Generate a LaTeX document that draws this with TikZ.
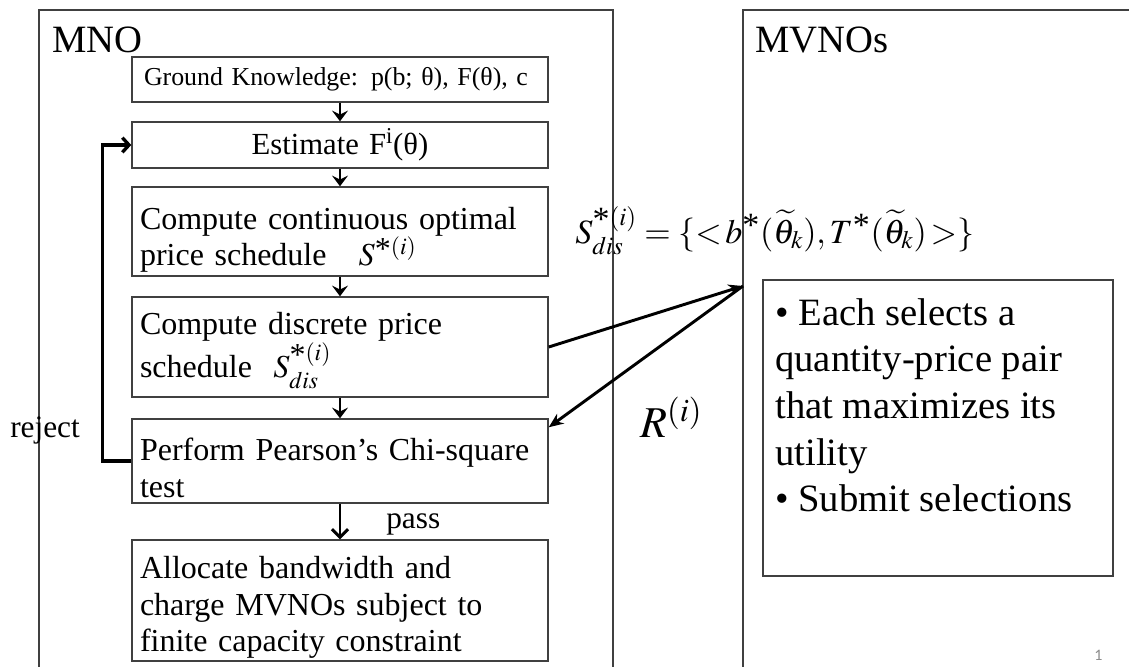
\documentclass[tikz,border=0pt]{standalone}
\usepackage{mathptmx}
\usepackage{fontspec}
\setmainfont{Liberation Serif}
\newfontfamily\calibfont{Carlito}
\usetikzlibrary{arrows.meta,calc}
\definecolor{boxgray}{HTML}{404040}
\definecolor{pagegray}{HTML}{8C8C8C}
\tikzset{
  x=0.75pt, y=-0.75pt,
  frame/.style={draw=boxgray, line width=1pt},
  flowbox/.style={draw=boxgray, line width=1.1pt, minimum width=312pt,
    inner xsep=6pt, inner ysep=0pt, text width=300pt,
    font=\fontsize{24}{27.5}\selectfont},
  smallarr/.style={line width=2.2pt, -{Stealth[length=8pt,width=12pt,inset=3pt]}},
  passarr/.style={line width=2.2pt, -{Straight Barb[length=6pt,width=12pt]}},
  looparr/.style={line width=2.5pt, -{Straight Barb[length=5pt,width=11pt]}},
  longarr/.style={line width=2.2pt, -{Stealth[length=11pt,width=9pt]}},
  lbl/.style={inner sep=0pt, anchor=base west}
}
\newcommand{\tstar}{\textnormal{\raisebox{-0.35ex}{*}}}
\begin{document}
\begin{tikzpicture}
\useasboundingbox (0,0) rectangle (1129,667);
\fill[white] (0,0) rectangle (1129,667);

% outer frames
\draw[frame] (39,667) -- (39,10) -- (613,10) -- (613,667);
\draw[frame] (743,667) -- (743,10) -- (1129,10);

\node[lbl, font=\fontsize{29}{34}\selectfont] (mno) at (52,53) {MNO};
\node[lbl, font=\fontsize{29}{34}\selectfont] (mvno) at (755,53) {MVNOs};

% flow boxes
\node[flowbox, minimum height=33.75pt, align=left, font=\fontsize{19.4}{23}\selectfont] (gk) at (340,79.5)
  {\hspace*{3pt}Ground Knowledge: p(b; θ), F(θ), c};
\node[flowbox, minimum height=34.5pt, align=center, font=\fontsize{23}{27}\selectfont] (est) at (340,145)
  {Estimate F\textsuperscript{i}(θ)};
\node[flowbox, minimum height=66.75pt, align=left] (cont) at (340,231.5)
  {\rule{0pt}{29pt}Compute continuous optimal\\price schedule \ \ $S^{\tstar(i)}$};
\node[flowbox, minimum height=75pt, align=left] (disc) at (340,347)
  {\rule{0pt}{22pt}Compute discrete price\\schedule \ $S_{dis}^{\tstar(i)}$};
\node[flowbox, minimum height=63pt, align=left] (pear) at (340,461)
  {\rule{0pt}{27pt}Perform Pearson’s Chi-square\\test};
\node[flowbox, minimum height=90.75pt, align=left] (alloc) at (340,600.5)
  {\rule{0pt}{27pt}Allocate bandwidth and\\charge MVNOs subject to\\finite capacity constraint};

\draw[smallarr] (gk) -- (est);
\draw[smallarr] (est) -- (cont);
\draw[smallarr] (cont) -- (disc);
\draw[smallarr] (disc) -- (pear);
\draw[passarr] (pear) -- (alloc);

\node[lbl, font=\fontsize{23.5}{28}\selectfont] (pass) at (386,528) {pass};
\node[lbl, font=\fontsize{23.5}{28}\selectfont] (reject) at (10,437) {reject};

% reject loop
\draw[looparr] (pear.west) -- ++(-29,0) |- (est.west);

% MVNO box
\node[draw=boxgray, line width=1.1pt, minimum width=262.5pt, minimum height=222pt] (mvbox) at (938,428) {};
\node[inner sep=0pt, anchor=north west, align=left, font=\fontsize{29}{35}\selectfont] (mvtext) at (775,298)
  {• Each selects a\\quantity-price pair\\that maximizes its\\utility\\• Submit selections};

% exchange arrows
\coordinate (hub) at (743,286);
\draw[longarr] (disc.east) -- (hub);
\draw[longarr] (hub) -- ([yshift=-6.75pt]pear.north east);

\node[lbl, font=\fontsize{25.5}{32}\selectfont] (slab) at (575,243)
  {$S_{dis}^{\tstar(i)} = \{{<}\,b^{\tstar}(\widetilde{\theta}_k), T^{\tstar}(\widetilde{\theta}_k)\,{>}\}$};
\node[lbl, font=\fontsize{33}{38}\selectfont] (rlab) at (640,437) {$R^{(i)}$};

\node[lbl, text=pagegray, font=\calibfont\fontsize{12}{14}\selectfont] (pg) at (1094,660) {1};
\end{tikzpicture}
\end{document}
